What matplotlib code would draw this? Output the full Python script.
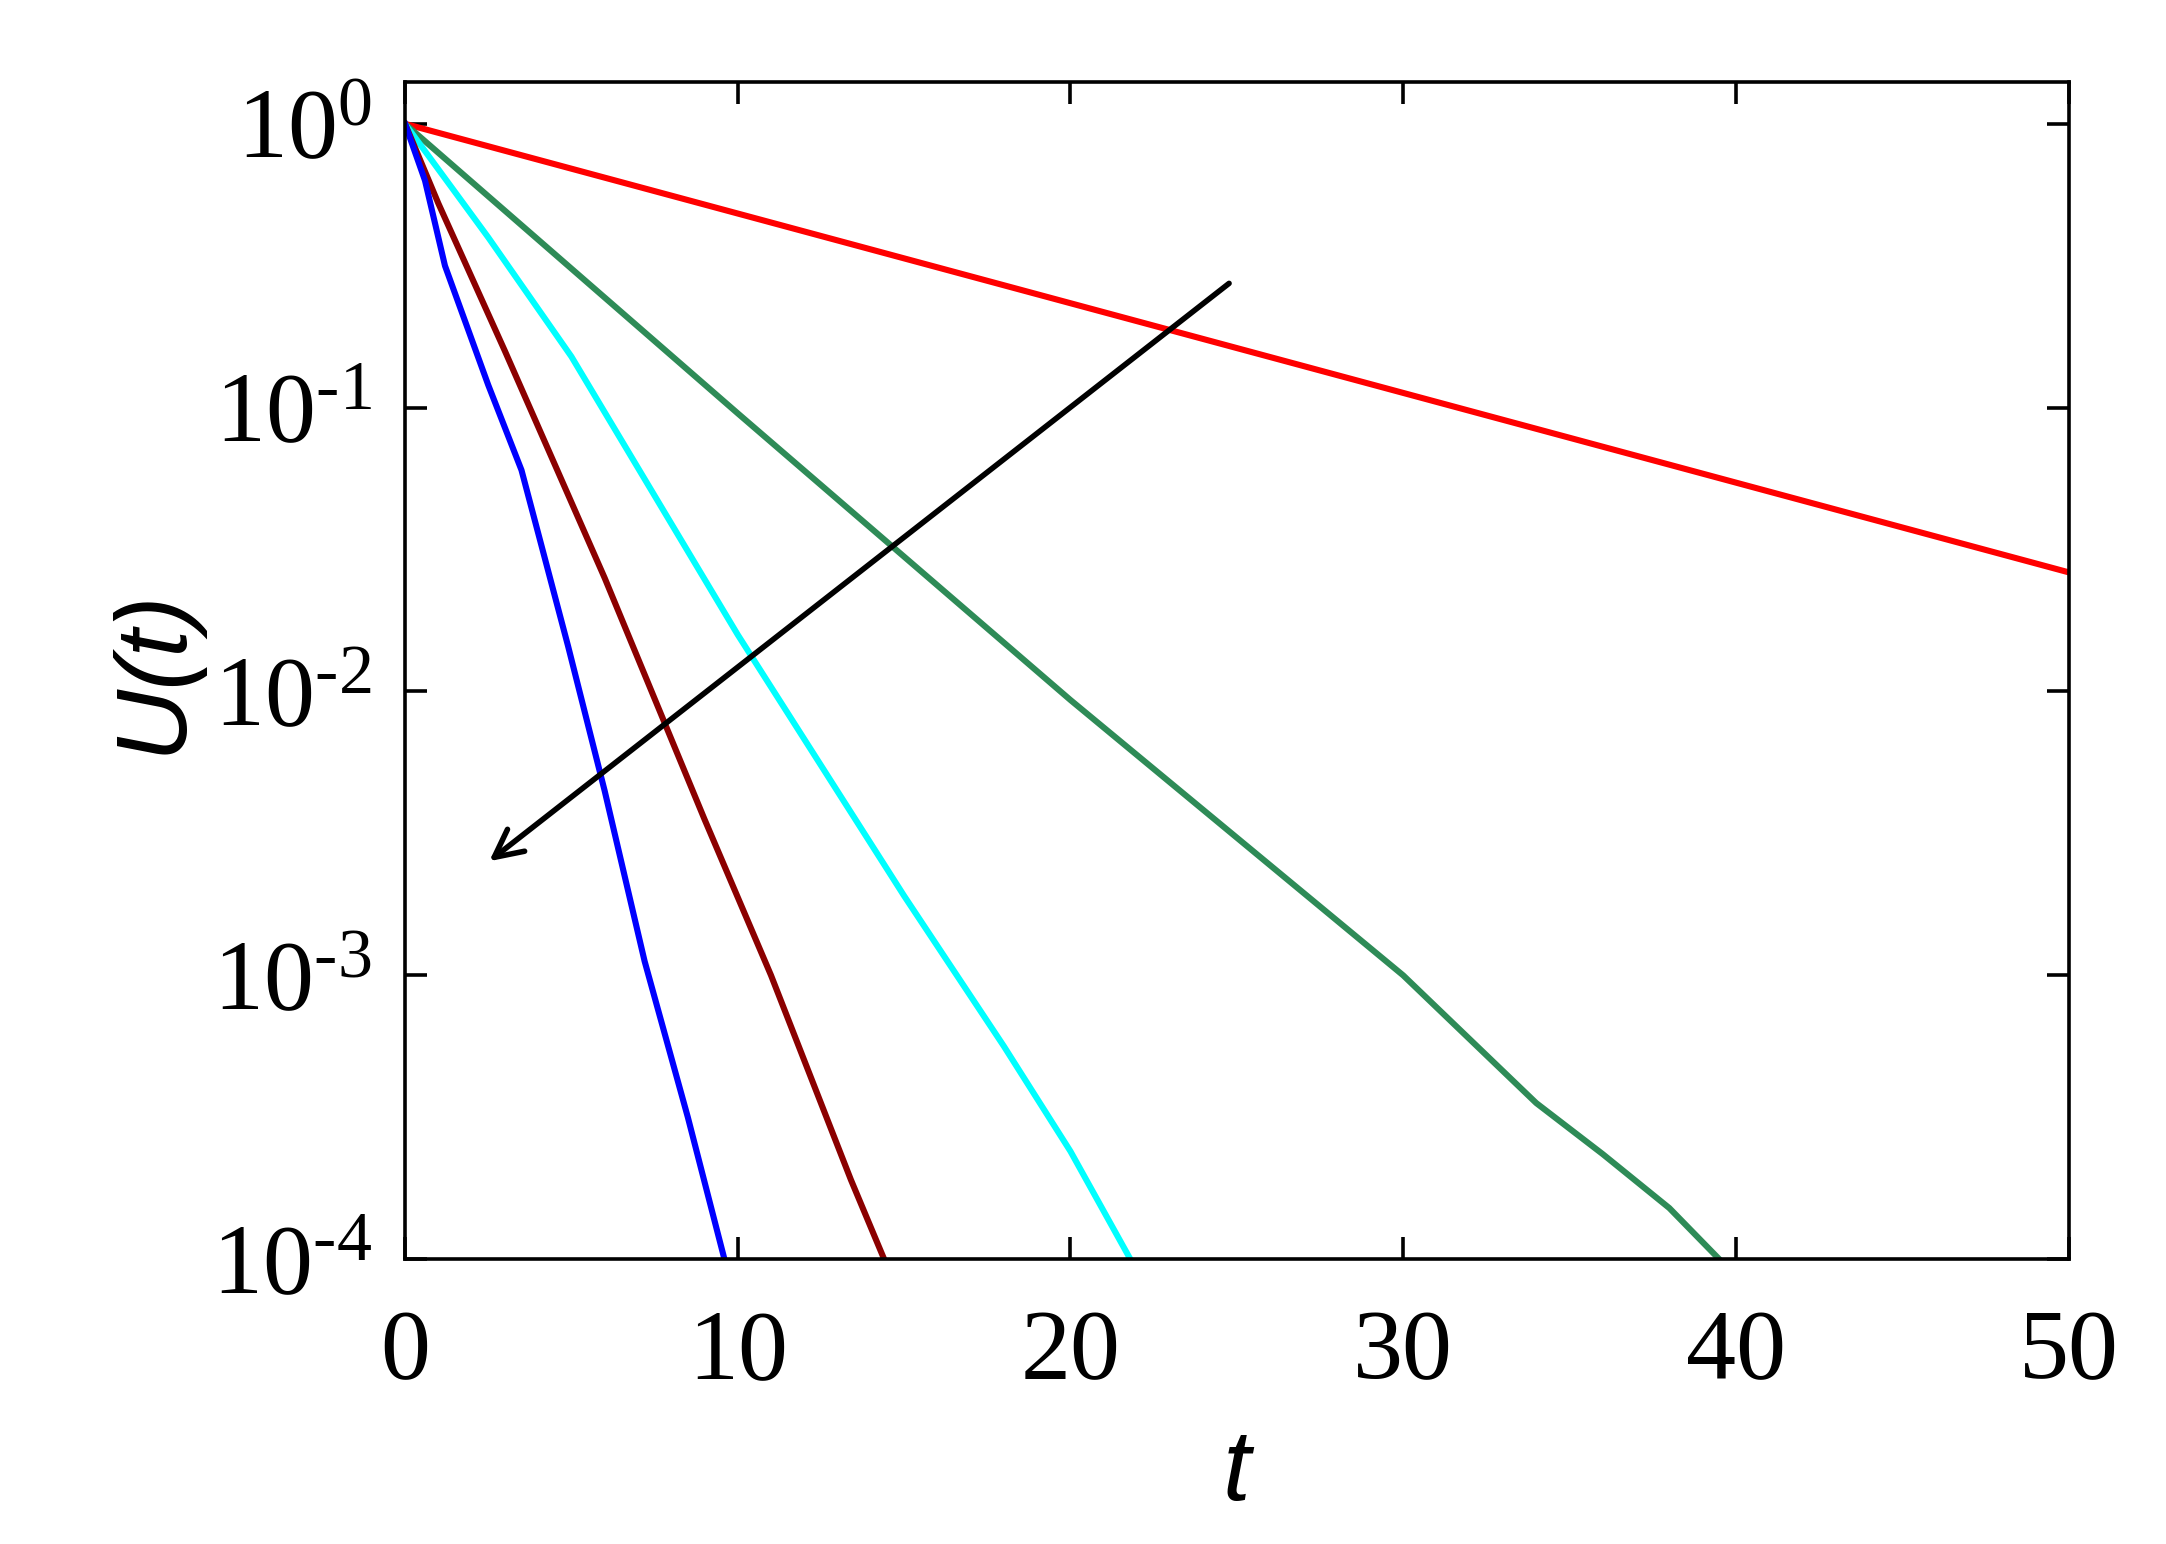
import numpy as np
import matplotlib.pyplot as plt
from matplotlib.ticker import FixedLocator, FixedFormatter, NullLocator

plt.rcParams['font.family'] = 'Liberation Serif'
plt.rcParams['mathtext.fontset'] = 'custom'
plt.rcParams['mathtext.rm'] = 'Liberation Serif'
plt.rcParams['mathtext.it'] = 'Liberation Serif:italic'

# (t, log10 U)
red_t = [0, 50]
red_y = [0, -1.58]
green_t = [0, 10, 20, 30, 34, 36, 38, 39.5]
green_y = [0, -1.02, -2.03, -3.0, -3.45, -3.63, -3.82, -4.0]
cyan_t = [0, 2.5, 5, 10, 15, 18, 20, 21.8]
cyan_y = [0, -0.4, -0.82, -1.8, -2.72, -3.25, -3.62, -4.0]
dred_t = [0, 1, 3, 6, 9, 11, 12.5, 13.4, 14.4]
dred_y = [0, -0.28, -0.8, -1.6, -2.45, -3.0, -3.45, -3.72, -4.0]
blue_t = [0, 0.6, 1.2, 2.5, 3.5, 4.9, 6, 7.2, 8.5, 9.6]
blue_y = [0, -0.2, -0.5, -0.92, -1.22, -1.84, -2.35, -2.95, -3.5, -4.0]

curves = [(red_t, red_y, '#ff0000'), (green_t, green_y, '#2e8b57'),
          (cyan_t, cyan_y, '#00ffff'), (dred_t, dred_y, '#8b0000'),
          (blue_t, blue_y, '#0000ff')]

fig = plt.figure(figsize=(10.83, 7.72), dpi=200)
ax = fig.add_axes([0.187, 0.1845, 0.768, 0.7625])
for t, y, c in curves:
    ax.plot(t, 10 ** np.array(y), color=c, lw=2.2)

ax.annotate('', xy=(2.4, 10 ** -2.61), xytext=(24.9, 10 ** -0.55),
            arrowprops=dict(arrowstyle='->', color='black', lw=2.0, mutation_scale=25))

ax.set_yscale('log')
ax.set_xlim(0, 50)
ax.set_ylim(1e-4, 10 ** 0.148)
ax.yaxis.set_major_locator(FixedLocator([1, 1e-1, 1e-2, 1e-3, 1e-4]))
ax.yaxis.set_major_formatter(FixedFormatter([r'$\mathregular{10^{0}}$', r'$\mathregular{10^{\text{-}1}}$',
                                             r'$\mathregular{10^{\text{-}2}}$', r'$\mathregular{10^{\text{-}3}}$',
                                             r'$\mathregular{10^{\text{-}4}}$']))
ax.yaxis.set_minor_locator(NullLocator())
ax.set_xticks([0, 10, 20, 30, 40, 50])
ax.tick_params(direction='in', top=True, right=True, labelsize=36, length=8, width=1.3, pad=12)
ax.tick_params(axis='x', pad=18)
for s in ax.spines.values():
    s.set_linewidth(1.3)
ax.set_xlabel('t', fontsize=36, family='Liberation Sans', style='italic', labelpad=10)
ax.set_ylabel('U(t)', fontsize=36, family='Liberation Sans', style='italic', labelpad=4)

fig.savefig('out.png')
